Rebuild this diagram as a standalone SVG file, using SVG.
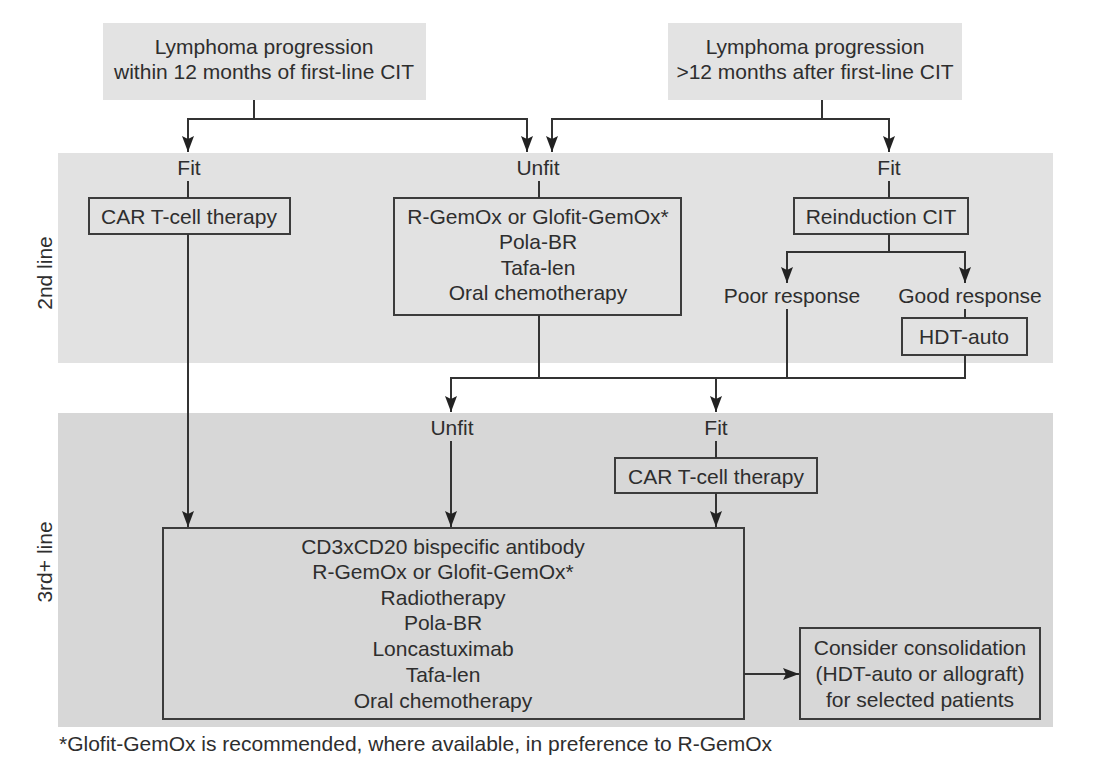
<svg xmlns="http://www.w3.org/2000/svg" width="1105" height="765" viewBox="0 0 1105 765">
<style>
text{font-family:"Liberation Sans",Arial,sans-serif;font-size:21px;fill:#2e2e2e;text-anchor:middle}
.box{fill:none;stroke:#3c3c3c;stroke-width:2}
.conn path{fill:none;stroke:#333;stroke-width:2}
.foot{text-anchor:start}
</style>
<defs>
<marker id="ah" viewBox="0 0 16 12" refX="16" refY="6" markerWidth="16" markerHeight="12" markerUnits="userSpaceOnUse" orient="auto">
<path d="M0,0 L16,6 L0,12 L3,6 z" fill="#222"/>
</marker>
</defs>
<rect width="1105" height="765" fill="#ffffff"/>
<g id="band2"><rect x="58" y="153" width="995" height="210" fill="#e2e2e2"/><text transform="translate(52,273) rotate(-90)">2nd line</text></g>
<g id="band3"><rect x="58" y="413" width="995" height="314" fill="#d7d7d7"/><text transform="translate(52,562) rotate(-90)">3rd+ line</text></g>

<g id="start-early"><rect x="103" y="23" width="323" height="77" fill="#e3e3e3"/><text x="264" y="54">Lymphoma progression</text><text x="264" y="79">within 12 months of first-line CIT</text></g>
<g id="start-late"><rect x="668" y="23" width="294" height="77" fill="#e3e3e3"/><text x="815" y="54">Lymphoma progression</text><text x="815" y="79">&gt;12 months after first-line CIT</text></g>

<g id="fit2a"><text x="189" y="175">Fit</text></g>
<g id="unfit2"><text x="538" y="175">Unfit</text></g>
<g id="fit2b"><text x="889" y="175">Fit</text></g>
<g id="cart2"><rect class="box" x="89" y="198" width="201" height="36"/><text x="189" y="224">CAR T-cell therapy</text></g>
<g id="unfit2-box"><rect class="box" x="394" y="198" width="287" height="117"/><text x="538" y="224">R-GemOx or Glofit-GemOx*</text><text x="538" y="249">Pola-BR</text><text x="538" y="275">Tafa-len</text><text x="538" y="300">Oral chemotherapy</text></g>
<g id="reinduction"><rect class="box" x="794" y="198" width="174" height="36"/><text x="881" y="224">Reinduction CIT</text></g>
<g id="poor"><text x="792" y="303">Poor response</text></g>
<g id="good"><text x="970" y="303">Good response</text></g>
<g id="hdt"><rect class="box" x="902" y="318" width="125" height="37"/><text x="964" y="344">HDT-auto</text></g>

<g id="unfit3"><text x="452" y="435">Unfit</text></g>
<g id="fit3"><text x="716" y="435">Fit</text></g>
<g id="cart3"><rect class="box" x="615" y="458" width="202" height="35"/><text x="716" y="484">CAR T-cell therapy</text></g>
<g id="third-box"><rect class="box" x="163" y="528" width="581" height="191"/><text x="443" y="554">CD3xCD20 bispecific antibody</text><text x="443" y="579">R-GemOx or Glofit-GemOx*</text><text x="443" y="605">Radiotherapy</text><text x="443" y="630">Pola-BR</text><text x="443" y="656">Loncastuximab</text><text x="443" y="682">Tafa-len</text><text x="443" y="708">Oral chemotherapy</text></g>
<g id="consolidation"><rect class="box" x="800" y="628" width="240" height="91"/><text x="920" y="655">Consider consolidation</text><text x="920" y="681">(HDT-auto or allograft)</text><text x="920" y="707">for selected patients</text></g>
<g id="footnote"><text class="foot" x="59" y="751">*Glofit-GemOx is recommended, where available, in preference to R-GemOx</text></g>

<g class="conn" id="connectors">
<path d="M254,100 V119 H188 V152" marker-end="url(#ah)"/>
<path d="M254,119 H527 V152" marker-end="url(#ah)"/>
<path d="M822,100 V119 H552 V152" marker-end="url(#ah)"/>
<path d="M822,119 H889 V152" marker-end="url(#ah)"/>
<path d="M188,181 V198"/>
<path d="M539,181 V198"/>
<path d="M889,181 V198"/>
<path d="M889,234 V252 H787 V283" marker-end="url(#ah)"/>
<path d="M889,252 H965 V283" marker-end="url(#ah)"/>
<path d="M965,309 V318"/>
<path d="M539,315 V378"/>
<path d="M787,309 V378"/>
<path d="M965,355 V378 H451 V412" marker-end="url(#ah)"/>
<path d="M716,378 V412" marker-end="url(#ah)"/>
<path d="M451,441 V527" marker-end="url(#ah)"/>
<path d="M716,441 V458"/>
<path d="M716,493 V527" marker-end="url(#ah)"/>
<path d="M188,234 V527" marker-end="url(#ah)"/>
<path d="M744,674 H799" marker-end="url(#ah)"/>
</g>
</svg>
